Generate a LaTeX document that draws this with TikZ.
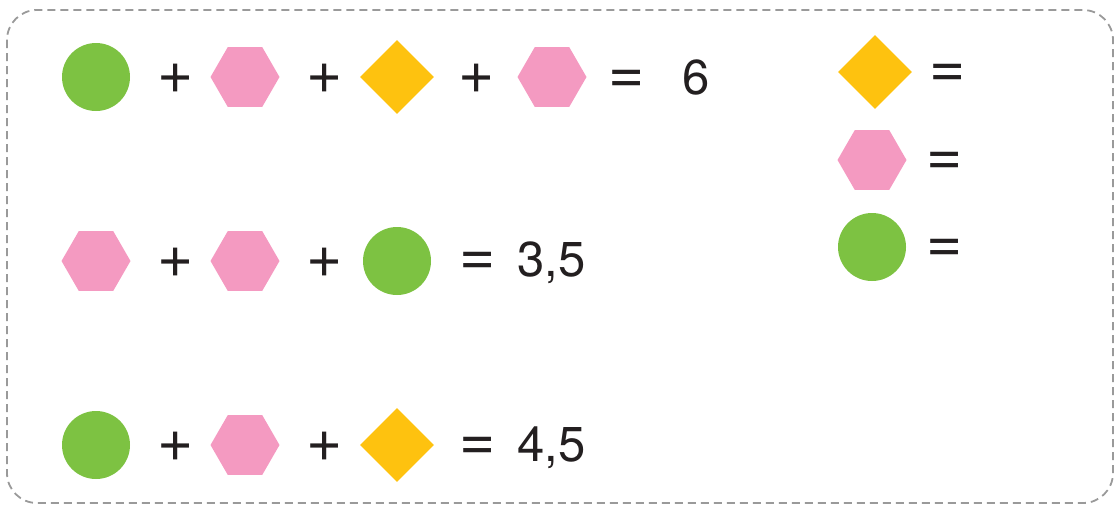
\documentclass[tikz,border=0pt]{standalone}
\usepackage{fontspec}
\setmainfont{TeX Gyre Heros}
\usetikzlibrary{shapes.geometric}
\definecolor{cgreen}{HTML}{7DC242}
\definecolor{cpink}{HTML}{F49AC1}
\definecolor{cyellow}{HTML}{FEC20F}
\definecolor{ctext}{HTML}{231F20}
\definecolor{cborder}{HTML}{9A9A9A}
\tikzset{
  ball/.style={circle,fill=cgreen,draw=none,minimum size=68pt,inner sep=0pt},
  hexa/.style={regular polygon,regular polygon sides=6,fill=cpink,draw=none,minimum size=69pt,inner sep=0pt},
  rhomb/.style={diamond,fill=cyellow,draw=none,minimum width=74pt,minimum height=74pt,inner sep=0pt},
  sym/.style={text=ctext,font=\fontsize{62}{62}\selectfont,inner sep=0pt,anchor=center},
  plus/.style={sym,yshift=-2pt},
  eqs/.style={sym,yshift=-4pt},
  num/.style={text=ctext,font=\fontsize{49}{49}\selectfont,inner sep=0pt,anchor=base west}
}
\begin{document}
\begin{tikzpicture}[x=1pt,y=-1pt]
\useasboundingbox (0,0) rectangle (1115,507);
\draw[cborder,line width=1.8pt,dash pattern=on 8pt off 5pt,rounded corners=30pt] (7,10) rectangle (1113,503);
% row 1
\node[ball] (r1a) at (96,77) {};
\node[plus] (r1p1) at (176,77) {+};
\node[hexa] (r1b) at (245,77) {};
\node[plus] (r1p2) at (325,77) {+};
\node[rhomb] (r1c) at (397,77) {};
\node[plus] (r1p3) at (477,77) {+};
\node[hexa] (r1d) at (552,77) {};
\node[eqs] (r1eq) at (627,78) {=};
\node[num] (r1v) at (682,94) {6};
% row 2
\node[hexa] (r2a) at (96,261) {};
\node[plus] (r2p1) at (176,261) {+};
\node[hexa] (r2b) at (245,261) {};
\node[plus] (r2p2) at (325,261) {+};
\node[ball] (r2c) at (397,261) {};
\node[eqs] (r2eq) at (478,260) {=};
\node[num] (r2v) at (517,276) {3,5};
% row 3
\node[ball] (r3a) at (96,445) {};
\node[plus] (r3p1) at (176,445) {+};
\node[hexa] (r3b) at (245,445) {};
\node[plus] (r3p2) at (325,445) {+};
\node[rhomb] (r3c) at (397,445) {};
\node[eqs] (r3eq) at (478,445) {=};
\node[num] (r3v) at (517,461) {4,5};
% legend
\node[rhomb] (ka) at (875,72) {};
\node[eqs] (kaeq) at (948,72) {=};
\node[hexa] (kb) at (872,160) {};
\node[eqs] (kbeq) at (945,160) {=};
\node[ball] (kc) at (872,247) {};
\node[eqs] (kceq) at (945,247) {=};
\end{tikzpicture}
\end{document}
